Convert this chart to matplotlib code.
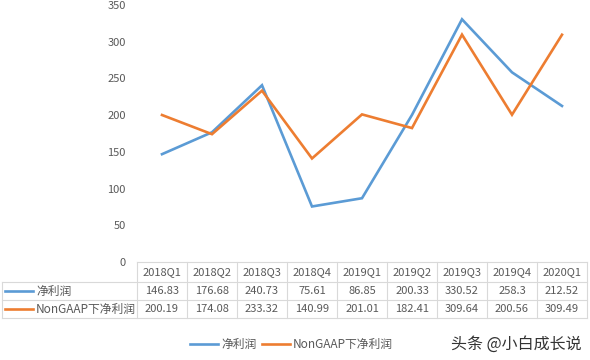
import matplotlib.pyplot as plt
import matplotlib.transforms as mtransforms
from matplotlib.lines import Line2D

plt.rcParams['font.family'] = ['Noto Sans CJK SC', 'DejaVu Sans']

quarters = ['2018Q1', '2018Q2', '2018Q3', '2018Q4', '2019Q1',
            '2019Q2', '2019Q3', '2019Q4', '2020Q1']
net_profit = [146.83, 176.68, 240.73, 75.61, 86.85, 200.33, 330.52, 258.3, 212.52]
nongaap_profit = [200.19, 174.08, 233.32, 140.99, 201.01, 182.41, 309.64, 200.56, 309.49]
series_names = ['净利润', 'NonGAAP下净利润']

blue = '#5B9BD5'
orange = '#ED7D31'
grid = '#D9D9D9'
txt = '#595959'

W, H = 590, 360
fig = plt.figure(figsize=(W / 100, H / 100), dpi=100)


def fy(p):
    # pixel row -> figure fraction
    return 1 - p / H


def fx(p):
    return p / W


ax = fig.add_axes([fx(137), fy(262), fx(587) - fx(137), fy(5) - fy(262)])
x = list(range(len(quarters)))
ax.plot(x, net_profit, color=blue, lw=1.9, solid_joinstyle='miter')
ax.plot(x, nongaap_profit, color=orange, lw=1.9, solid_joinstyle='miter')
ax.set_xlim(-0.5, len(quarters) - 0.5)
ax.set_ylim(0, 350)
ax.set_yticks(range(0, 351, 50))
ax.set_xticks([])
for s in ax.spines.values():
    s.set_visible(False)
ax.tick_params(axis='y', length=0, labelsize=8, labelcolor=txt, pad=8)

# data table under the plot
tr = mtransforms.blended_transform_factory(ax.transData, fig.transFigure)
rows_top = [262, 282, 300, 318]
for i in range(len(quarters) + 1):
    ax.add_line(Line2D([i - 0.5, i - 0.5], [fy(262), fy(318)], transform=tr,
                       color=grid, lw=0.8, clip_on=False))
fig.add_artist(Line2D([fx(137), fx(587)], [fy(262), fy(262)], color=grid, lw=0.8))
for p in rows_top[1:]:
    fig.add_artist(Line2D([fx(2), fx(587)], [fy(p), fy(p)], color=grid, lw=0.8))
fig.add_artist(Line2D([fx(2), fx(2)], [fy(282), fy(318)], color=grid, lw=0.8))

for i, q in enumerate(quarters):
    ax.text(i, fy(272), q, transform=tr, ha='center', va='center', fontsize=8, color=txt)
    ax.text(i, fy(291), f'{net_profit[i]:g}', transform=tr, ha='center', va='center',
            fontsize=8, color=txt)
    ax.text(i, fy(309), f'{nongaap_profit[i]:g}', transform=tr, ha='center', va='center',
            fontsize=8, color=txt)

for name, col, yp in zip(series_names, [blue, orange], [291, 309]):
    fig.add_artist(Line2D([fx(5), fx(33)], [fy(yp), fy(yp)], color=col, lw=1.9))
    fig.text(fx(36), fy(yp), name, ha='left', va='center', fontsize=8.5, color=txt)

# legend at bottom, laid out by hand like the Excel one
for name, col, x0 in zip(series_names, [blue, orange], [190, 262]):
    fig.add_artist(Line2D([fx(x0), fx(x0 + 28)], [fy(344), fy(344)], color=col, lw=1.9))
    fig.text(fx(x0 + 31), fy(344), name, ha='left', va='center', fontsize=8.5, color=txt)

fig.text(fx(582), fy(344), '头条 @小白成长说', ha='right', va='center', fontsize=11.5,
         color='#333333')

fig.savefig('out.png', dpi=100)
